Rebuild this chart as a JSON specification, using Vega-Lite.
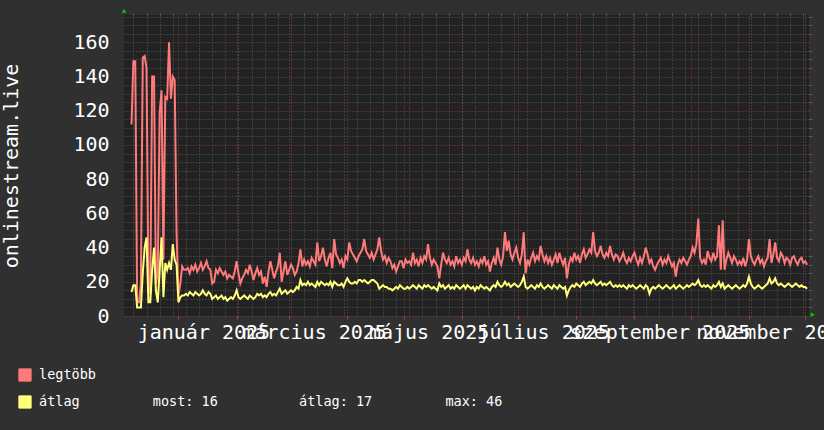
{
"$schema": "https://vega.github.io/schema/vega-lite/v6.json",
"width": 685, "height": 301,
"autosize": {"type": "none"},
"padding": {"left": 124, "top": 15, "right": 15, "bottom": 114},
"background": "#303030",
"config": {
  "view": {"fill": "#222222", "stroke": null},
  "font": "DejaVu Sans Mono",
  "axis": {"labelFont": "DejaVu Sans Mono", "titleFont": "DejaVu Sans Mono", "labelColor": "#ffffff", "titleColor": "#ffffff", "domain": false}
},
"datasets": {
"rrd": [
{"t":"2024-12-07","max":112,"avg":14},{"t":"2024-12-08","max":149,"avg":18},{"t":"2024-12-09","max":149,"avg":18},{"t":"2024-12-10","max":8,"avg":5},{"t":"2024-12-11","max":8,"avg":5},{"t":"2024-12-12","max":19,"avg":5},{"t":"2024-12-13","max":151,"avg":25},{"t":"2024-12-14","max":152,"avg":40},{"t":"2024-12-15","max":145,"avg":46},{"t":"2024-12-16","max":19,"avg":8},{"t":"2024-12-17","max":13,"avg":8},{"t":"2024-12-18","max":140,"avg":27},{"t":"2024-12-19","max":140,"avg":40},{"t":"2024-12-20","max":19,"avg":15},{"t":"2024-12-21","max":25,"avg":8},{"t":"2024-12-22","max":119,"avg":27},{"t":"2024-12-23","max":132,"avg":46},{"t":"2024-12-24","max":33,"avg":11},{"t":"2024-12-25","max":128,"avg":31},{"t":"2024-12-26","max":127,"avg":27},{"t":"2024-12-27","max":160,"avg":31},{"t":"2024-12-28","max":127,"avg":27},{"t":"2024-12-29","max":140,"avg":42},{"t":"2024-12-30","max":138,"avg":33},{"t":"2024-12-31","max":49,"avg":30},
{"t":"2025-01-01","max":12,"avg":8},{"t":"2025-01-02","max":19,"avg":11},{"t":"2025-01-03","max":29,"avg":12},{"t":"2025-01-04","max":27,"avg":12},{"t":"2025-01-05","max":27,"avg":13},{"t":"2025-01-06","max":28,"avg":12},{"t":"2025-01-07","max":25,"avg":14},{"t":"2025-01-08","max":29,"avg":13},{"t":"2025-01-09","max":27,"avg":12},{"t":"2025-01-10","max":30,"avg":14},{"t":"2025-01-11","max":26,"avg":13},{"t":"2025-01-12","max":28,"avg":12},{"t":"2025-01-13","max":31,"avg":13},{"t":"2025-01-14","max":27,"avg":15},{"t":"2025-01-15","max":29,"avg":13},{"t":"2025-01-16","max":32,"avg":12},{"t":"2025-01-17","max":28,"avg":14},{"t":"2025-01-18","max":27,"avg":13},{"t":"2025-01-19","max":19,"avg":10},{"t":"2025-01-20","max":20,"avg":11},{"t":"2025-01-21","max":27,"avg":12},{"t":"2025-01-22","max":25,"avg":10},{"t":"2025-01-23","max":28,"avg":11},{"t":"2025-01-24","max":26,"avg":12},{"t":"2025-01-25","max":24,"avg":10},{"t":"2025-01-26","max":26,"avg":11},{"t":"2025-01-27","max":22,"avg":9},{"t":"2025-01-28","max":24,"avg":10},{"t":"2025-01-29","max":23,"avg":11},{"t":"2025-01-30","max":22,"avg":10},{"t":"2025-01-31","max":26,"avg":12},
{"t":"2025-02-01","max":32,"avg":15},{"t":"2025-02-02","max":25,"avg":11},{"t":"2025-02-03","max":19,"avg":10},{"t":"2025-02-04","max":22,"avg":11},{"t":"2025-02-05","max":24,"avg":12},{"t":"2025-02-06","max":27,"avg":11},{"t":"2025-02-07","max":25,"avg":10},{"t":"2025-02-08","max":30,"avg":12},{"t":"2025-02-09","max":26,"avg":11},{"t":"2025-02-10","max":21,"avg":10},{"t":"2025-02-11","max":25,"avg":11},{"t":"2025-02-12","max":28,"avg":13},{"t":"2025-02-13","max":24,"avg":12},{"t":"2025-02-14","max":26,"avg":13},{"t":"2025-02-15","max":19,"avg":11},{"t":"2025-02-16","max":23,"avg":12},{"t":"2025-02-17","max":17,"avg":11},{"t":"2025-02-18","max":26,"avg":13},{"t":"2025-02-19","max":32,"avg":14},{"t":"2025-02-20","max":27,"avg":12},{"t":"2025-02-21","max":22,"avg":13},{"t":"2025-02-22","max":26,"avg":12},{"t":"2025-02-23","max":29,"avg":14},{"t":"2025-02-24","max":37,"avg":16},{"t":"2025-02-25","max":20,"avg":13},{"t":"2025-02-26","max":26,"avg":14},{"t":"2025-02-27","max":32,"avg":15},{"t":"2025-02-28","max":24,"avg":13},
{"t":"2025-03-01","max":27,"avg":14},{"t":"2025-03-02","max":30,"avg":15},{"t":"2025-03-03","max":28,"avg":14},{"t":"2025-03-04","max":24,"avg":15},{"t":"2025-03-05","max":26,"avg":17},{"t":"2025-03-06","max":31,"avg":16},{"t":"2025-03-07","max":39,"avg":21},{"t":"2025-03-08","max":29,"avg":18},{"t":"2025-03-09","max":33,"avg":19},{"t":"2025-03-10","max":30,"avg":18},{"t":"2025-03-11","max":32,"avg":20},{"t":"2025-03-12","max":29,"avg":18},{"t":"2025-03-13","max":34,"avg":19},{"t":"2025-03-14","max":32,"avg":18},{"t":"2025-03-15","max":30,"avg":17},{"t":"2025-03-16","max":43,"avg":20},{"t":"2025-03-17","max":32,"avg":18},{"t":"2025-03-18","max":35,"avg":20},{"t":"2025-03-19","max":40,"avg":19},{"t":"2025-03-20","max":33,"avg":18},{"t":"2025-03-21","max":29,"avg":19},{"t":"2025-03-22","max":34,"avg":18},{"t":"2025-03-23","max":37,"avg":20},{"t":"2025-03-24","max":28,"avg":17},{"t":"2025-03-25","max":45,"avg":20},{"t":"2025-03-26","max":36,"avg":19},{"t":"2025-03-27","max":34,"avg":18},{"t":"2025-03-28","max":31,"avg":18},{"t":"2025-03-29","max":33,"avg":19},{"t":"2025-03-30","max":28,"avg":17},{"t":"2025-03-31","max":35,"avg":20},
{"t":"2025-04-01","max":33,"avg":22},{"t":"2025-04-02","max":43,"avg":20},{"t":"2025-04-03","max":38,"avg":19},{"t":"2025-04-04","max":36,"avg":19},{"t":"2025-04-05","max":34,"avg":20},{"t":"2025-04-06","max":32,"avg":19},{"t":"2025-04-07","max":35,"avg":21},{"t":"2025-04-08","max":37,"avg":21},{"t":"2025-04-09","max":39,"avg":20},{"t":"2025-04-10","max":45,"avg":21},{"t":"2025-04-11","max":38,"avg":20},{"t":"2025-04-12","max":36,"avg":19},{"t":"2025-04-13","max":34,"avg":20},{"t":"2025-04-14","max":37,"avg":21},{"t":"2025-04-15","max":33,"avg":21},{"t":"2025-04-16","max":36,"avg":20},{"t":"2025-04-17","max":39,"avg":19},{"t":"2025-04-18","max":46,"avg":16},{"t":"2025-04-19","max":38,"avg":17},{"t":"2025-04-20","max":33,"avg":18},{"t":"2025-04-21","max":35,"avg":17},{"t":"2025-04-22","max":31,"avg":17},{"t":"2025-04-23","max":34,"avg":16},{"t":"2025-04-24","max":32,"avg":16},{"t":"2025-04-25","max":28,"avg":15},{"t":"2025-04-26","max":30,"avg":16},{"t":"2025-04-27","max":26,"avg":17},{"t":"2025-04-28","max":29,"avg":16},{"t":"2025-04-29","max":32,"avg":18},{"t":"2025-04-30","max":32,"avg":17},
{"t":"2025-05-01","max":28,"avg":16},{"t":"2025-05-02","max":33,"avg":16},{"t":"2025-05-03","max":31,"avg":17},{"t":"2025-05-04","max":32,"avg":16},{"t":"2025-05-05","max":30,"avg":17},{"t":"2025-05-06","max":37,"avg":18},{"t":"2025-05-07","max":31,"avg":17},{"t":"2025-05-08","max":33,"avg":16},{"t":"2025-05-09","max":29,"avg":18},{"t":"2025-05-10","max":34,"avg":17},{"t":"2025-05-11","max":31,"avg":16},{"t":"2025-05-12","max":35,"avg":18},{"t":"2025-05-13","max":33,"avg":17},{"t":"2025-05-14","max":42,"avg":18},{"t":"2025-05-15","max":34,"avg":17},{"t":"2025-05-16","max":30,"avg":16},{"t":"2025-05-17","max":33,"avg":17},{"t":"2025-05-18","max":31,"avg":16},{"t":"2025-05-19","max":29,"avg":15},{"t":"2025-05-20","max":22,"avg":19},{"t":"2025-05-21","max":30,"avg":17},{"t":"2025-05-22","max":37,"avg":18},{"t":"2025-05-23","max":33,"avg":16},{"t":"2025-05-24","max":31,"avg":17},{"t":"2025-05-25","max":34,"avg":18},{"t":"2025-05-26","max":30,"avg":16},{"t":"2025-05-27","max":32,"avg":17},{"t":"2025-05-28","max":29,"avg":16},{"t":"2025-05-29","max":35,"avg":18},{"t":"2025-05-30","max":31,"avg":17},{"t":"2025-05-31","max":33,"avg":16},
{"t":"2025-06-01","max":30,"avg":17},{"t":"2025-06-02","max":34,"avg":18},{"t":"2025-06-03","max":32,"avg":16},{"t":"2025-06-04","max":39,"avg":18},{"t":"2025-06-05","max":33,"avg":17},{"t":"2025-06-06","max":31,"avg":16},{"t":"2025-06-07","max":34,"avg":17},{"t":"2025-06-08","max":30,"avg":15},{"t":"2025-06-09","max":32,"avg":17},{"t":"2025-06-10","max":29,"avg":16},{"t":"2025-06-11","max":33,"avg":18},{"t":"2025-06-12","max":31,"avg":17},{"t":"2025-06-13","max":35,"avg":16},{"t":"2025-06-14","max":30,"avg":17},{"t":"2025-06-15","max":32,"avg":16},{"t":"2025-06-16","max":26,"avg":15},{"t":"2025-06-17","max":31,"avg":17},{"t":"2025-06-18","max":34,"avg":18},{"t":"2025-06-19","max":30,"avg":17},{"t":"2025-06-20","max":40,"avg":20},{"t":"2025-06-21","max":33,"avg":18},{"t":"2025-06-22","max":30,"avg":17},{"t":"2025-06-23","max":35,"avg":18},{"t":"2025-06-24","max":49,"avg":20},{"t":"2025-06-25","max":38,"avg":18},{"t":"2025-06-26","max":44,"avg":19},{"t":"2025-06-27","max":36,"avg":17},{"t":"2025-06-28","max":33,"avg":18},{"t":"2025-06-29","max":37,"avg":19},{"t":"2025-06-30","max":40,"avg":18},
{"t":"2025-07-01","max":34,"avg":17},{"t":"2025-07-02","max":31,"avg":18},{"t":"2025-07-03","max":36,"avg":20},{"t":"2025-07-04","max":49,"avg":23},{"t":"2025-07-05","max":25,"avg":17},{"t":"2025-07-06","max":33,"avg":16},{"t":"2025-07-07","max":30,"avg":17},{"t":"2025-07-08","max":34,"avg":18},{"t":"2025-07-09","max":37,"avg":17},{"t":"2025-07-10","max":32,"avg":16},{"t":"2025-07-11","max":35,"avg":18},{"t":"2025-07-12","max":33,"avg":17},{"t":"2025-07-13","max":41,"avg":19},{"t":"2025-07-14","max":36,"avg":17},{"t":"2025-07-15","max":32,"avg":16},{"t":"2025-07-16","max":35,"avg":17},{"t":"2025-07-17","max":31,"avg":18},{"t":"2025-07-18","max":34,"avg":17},{"t":"2025-07-19","max":30,"avg":16},{"t":"2025-07-20","max":33,"avg":18},{"t":"2025-07-21","max":36,"avg":17},{"t":"2025-07-22","max":31,"avg":16},{"t":"2025-07-23","max":37,"avg":18},{"t":"2025-07-24","max":33,"avg":17},{"t":"2025-07-25","max":30,"avg":16},{"t":"2025-07-26","max":34,"avg":17},{"t":"2025-07-27","max":22,"avg":12},{"t":"2025-07-28","max":30,"avg":15},{"t":"2025-07-29","max":34,"avg":17},{"t":"2025-07-30","max":32,"avg":18},{"t":"2025-07-31","max":37,"avg":17},
{"t":"2025-08-01","max":33,"avg":19},{"t":"2025-08-02","max":35,"avg":18},{"t":"2025-08-03","max":31,"avg":17},{"t":"2025-08-04","max":36,"avg":19},{"t":"2025-08-05","max":39,"avg":20},{"t":"2025-08-06","max":34,"avg":18},{"t":"2025-08-07","max":36,"avg":19},{"t":"2025-08-08","max":39,"avg":20},{"t":"2025-08-09","max":37,"avg":19},{"t":"2025-08-10","max":49,"avg":21},{"t":"2025-08-11","max":38,"avg":19},{"t":"2025-08-12","max":35,"avg":18},{"t":"2025-08-13","max":37,"avg":19},{"t":"2025-08-14","max":41,"avg":20},{"t":"2025-08-15","max":36,"avg":18},{"t":"2025-08-16","max":34,"avg":19},{"t":"2025-08-17","max":37,"avg":18},{"t":"2025-08-18","max":35,"avg":19},{"t":"2025-08-19","max":41,"avg":20},{"t":"2025-08-20","max":36,"avg":18},{"t":"2025-08-21","max":33,"avg":17},{"t":"2025-08-22","max":36,"avg":18},{"t":"2025-08-23","max":35,"avg":17},{"t":"2025-08-24","max":32,"avg":18},{"t":"2025-08-25","max":34,"avg":17},{"t":"2025-08-26","max":37,"avg":18},{"t":"2025-08-27","max":33,"avg":17},{"t":"2025-08-28","max":31,"avg":16},{"t":"2025-08-29","max":34,"avg":18},{"t":"2025-08-30","max":32,"avg":17},{"t":"2025-08-31","max":35,"avg":18},
{"t":"2025-09-01","max":37,"avg":17},{"t":"2025-09-02","max":33,"avg":16},{"t":"2025-09-03","max":30,"avg":17},{"t":"2025-09-04","max":34,"avg":18},{"t":"2025-09-05","max":31,"avg":17},{"t":"2025-09-06","max":35,"avg":16},{"t":"2025-09-07","max":40,"avg":18},{"t":"2025-09-08","max":36,"avg":17},{"t":"2025-09-09","max":31,"avg":13},{"t":"2025-09-10","max":33,"avg":16},{"t":"2025-09-11","max":29,"avg":17},{"t":"2025-09-12","max":27,"avg":16},{"t":"2025-09-13","max":30,"avg":17},{"t":"2025-09-14","max":32,"avg":18},{"t":"2025-09-15","max":34,"avg":17},{"t":"2025-09-16","max":30,"avg":16},{"t":"2025-09-17","max":33,"avg":17},{"t":"2025-09-18","max":31,"avg":18},{"t":"2025-09-19","max":35,"avg":17},{"t":"2025-09-20","max":32,"avg":16},{"t":"2025-09-21","max":29,"avg":17},{"t":"2025-09-22","max":31,"avg":18},{"t":"2025-09-23","max":23,"avg":16},{"t":"2025-09-24","max":30,"avg":17},{"t":"2025-09-25","max":33,"avg":18},{"t":"2025-09-26","max":31,"avg":17},{"t":"2025-09-27","max":34,"avg":16},{"t":"2025-09-28","max":32,"avg":17},{"t":"2025-09-29","max":30,"avg":18},{"t":"2025-09-30","max":33,"avg":17},
{"t":"2025-10-01","max":35,"avg":18},{"t":"2025-10-02","max":40,"avg":19},{"t":"2025-10-03","max":37,"avg":18},{"t":"2025-10-04","max":42,"avg":19},{"t":"2025-10-05","max":57,"avg":21},{"t":"2025-10-06","max":34,"avg":18},{"t":"2025-10-07","max":31,"avg":17},{"t":"2025-10-08","max":33,"avg":18},{"t":"2025-10-09","max":30,"avg":17},{"t":"2025-10-10","max":38,"avg":18},{"t":"2025-10-11","max":34,"avg":17},{"t":"2025-10-12","max":32,"avg":16},{"t":"2025-10-13","max":37,"avg":18},{"t":"2025-10-14","max":33,"avg":17},{"t":"2025-10-15","max":35,"avg":18},{"t":"2025-10-16","max":53,"avg":20},{"t":"2025-10-17","max":27,"avg":17},{"t":"2025-10-18","max":56,"avg":19},{"t":"2025-10-19","max":27,"avg":16},{"t":"2025-10-20","max":33,"avg":17},{"t":"2025-10-21","max":37,"avg":18},{"t":"2025-10-22","max":34,"avg":17},{"t":"2025-10-23","max":31,"avg":16},{"t":"2025-10-24","max":35,"avg":17},{"t":"2025-10-25","max":33,"avg":18},{"t":"2025-10-26","max":30,"avg":17},{"t":"2025-10-27","max":32,"avg":16},{"t":"2025-10-28","max":30,"avg":17},{"t":"2025-10-29","max":34,"avg":18},{"t":"2025-10-30","max":29,"avg":17},{"t":"2025-10-31","max":33,"avg":19},
{"t":"2025-11-01","max":45,"avg":23},{"t":"2025-11-02","max":35,"avg":19},{"t":"2025-11-03","max":32,"avg":17},{"t":"2025-11-04","max":30,"avg":16},{"t":"2025-11-05","max":33,"avg":17},{"t":"2025-11-06","max":35,"avg":18},{"t":"2025-11-07","max":31,"avg":17},{"t":"2025-11-08","max":33,"avg":16},{"t":"2025-11-09","max":29,"avg":17},{"t":"2025-11-10","max":32,"avg":18},{"t":"2025-11-11","max":34,"avg":19},{"t":"2025-11-12","max":45,"avg":22},{"t":"2025-11-13","max":31,"avg":19},{"t":"2025-11-14","max":36,"avg":20},{"t":"2025-11-15","max":43,"avg":22},{"t":"2025-11-16","max":34,"avg":19},{"t":"2025-11-17","max":32,"avg":18},{"t":"2025-11-18","max":37,"avg":19},{"t":"2025-11-19","max":35,"avg":18},{"t":"2025-11-20","max":31,"avg":17},{"t":"2025-11-21","max":34,"avg":18},{"t":"2025-11-22","max":33,"avg":19},{"t":"2025-11-23","max":30,"avg":18},{"t":"2025-11-24","max":34,"avg":17},{"t":"2025-11-25","max":35,"avg":18},{"t":"2025-11-26","max":32,"avg":19},{"t":"2025-11-27","max":30,"avg":18},{"t":"2025-11-28","max":33,"avg":17},{"t":"2025-11-29","max":34,"avg":18},{"t":"2025-11-30","max":31,"avg":17},
{"t":"2025-12-01","max":32,"avg":17},{"t":"2025-12-02","max":30,"avg":16}
],
"arrows": [
{"t":"2024-12-03","v":178.5,"s":"up"},
{"t":"2025-12-05","v":0.8,"s":"right"}
]
},
"layer": [
{
  "data": {"name": "rrd"},
  "transform": [{"fold": ["max", "avg"], "as": ["series", "value"]}],
  "mark": {"type": "line", "strokeWidth": 2, "interpolate": "linear"},
  "encoding": {
    "x": {"field": "t", "type": "temporal",
      "scale": {"type": "utc", "domain": [{"year": 2024, "month": 12, "date": 3, "utc": true}, {"year": 2025, "month": 12, "date": 3, "utc": true}]},
      "axis": {"orient": "bottom", "title": null, "tickCount": {"interval": "month", "step": 1},
        "grid": true, "gridColor": "#8a3a3a", "gridDash": [1, 2], "gridWidth": 1,
        "ticks": true, "tickColor": "#a04444", "tickSize": 3,
        "labelExpr": "utcmonth(datum.value) % 2 == 0 ? ['január','február','március','április','május','június','július','augusztus','szeptember','október','november','december'][utcmonth(datum.value)] + ' ' + utcyear(datum.value) : ''",
        "labelOffset": 25, "labelAlign": "center", "labelBaseline": "top", "labelPadding": 3, "labelFontSize": 20,
        "labelOverlap": false, "labelFlush": false, "labelBound": false, "labelLimit": 400}
    },
    "y": {"field": "value", "type": "quantitative",
      "scale": {"domain": [0, 176], "nice": false, "zero": true},
      "axis": {"orient": "left", "title": "onlinestream.live", "values": [0, 20, 40, 60, 80, 100, 120, 140, 160],
        "grid": true, "gridColor": "#8a3a3a", "gridDash": [1, 2], "gridWidth": 1,
        "ticks": false, "labelPadding": 15, "labelFontSize": 20,
        "titleFontSize": 20, "titleFontWeight": "normal", "titlePadding": 51}
    },
    "color": {"field": "series", "type": "nominal",
      "scale": {"domain": ["max", "avg"], "range": ["#ff7a7a", "#ffff7a"]},
      "legend": {"orient": "none", "legendX": -106, "legendY": 353, "title": null,
        "symbolType": "square", "symbolSize": 150, "symbolStrokeWidth": 1,
        "labelFont": "DejaVu Sans Mono", "labelFontSize": 13.5, "labelColor": "#ffffff",
        "labelOffset": 7, "rowPadding": 9, "padding": 0, "labelLimit": 800,
        "labelExpr": "datum.value == 'max' ? 'legtöbb' : 'átlag\u00a0\u00a0\u00a0\u00a0\u00a0\u00a0\u00a0\u00a0\u00a0most: 16\u00a0\u00a0\u00a0\u00a0\u00a0\u00a0\u00a0\u00a0\u00a0\u00a0átlag: 17\u00a0\u00a0\u00a0\u00a0\u00a0\u00a0\u00a0\u00a0\u00a0max: 46'",
        "encode": {"symbols": {"update": {"fill": {"scale": "color", "field": "value"}, "stroke": {"value": "#000000"}, "strokeWidth": {"value": 1}, "opacity": {"value": 1}}}}}
    }
  }
},
{
  "data": {"name": "rrd"},
  "transform": [{"fold": ["max", "avg"], "as": ["series", "value"]}],
  "mark": {"type": "point", "opacity": 0},
  "encoding": {
    "x": {"field": "t", "type": "temporal",
      "axis": {"orient": "top", "title": null, "labels": false, "tickCount": {"interval": "week", "step": 1},
        "grid": true, "gridColor": "#5a5a5a", "gridDash": [1, 2], "gridWidth": 1,
        "ticks": true, "tickSize": 2, "tickColor": "#5a5a5a"}},
    "y": {"field": "value", "type": "quantitative",
      "axis": {"orient": "right", "title": null, "labels": false,
        "values": [5, 10, 15, 25, 30, 35, 45, 50, 55, 65, 70, 75, 85, 90, 95, 105, 110, 115, 125, 130, 135, 145, 150, 155, 165, 170, 175],
        "grid": true, "gridColor": "#5a5a5a", "gridDash": [1, 2], "gridWidth": 1,
        "ticks": true, "tickSize": 3, "tickColor": "#5a5a5a"}}
  }
},
{
  "data": {"name": "arrows"},
  "mark": {"type": "point", "filled": true, "color": "#00cc00", "opacity": 1, "size": 22},
  "encoding": {
    "x": {"field": "t", "type": "temporal", "axis": null},
    "y": {"field": "v", "type": "quantitative", "axis": null},
    "shape": {"field": "s", "type": "nominal", "scale": {"domain": ["up", "right"], "range": ["triangle-up", "triangle-right"]}, "legend": null}
  }
}
],
"resolve": {"axis": {"x": "independent", "y": "independent"}}
}
